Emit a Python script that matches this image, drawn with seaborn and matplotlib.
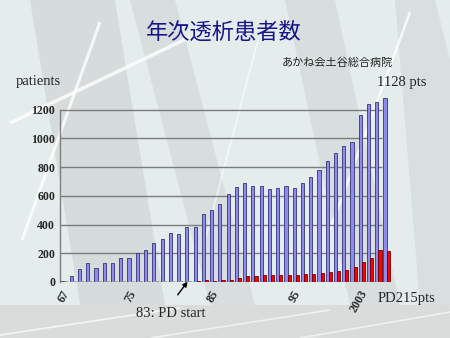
import pandas as pd
import seaborn as sns
import matplotlib
matplotlib.use("Agg")
import matplotlib.pyplot as plt
import matplotlib.transforms as mtransforms
from matplotlib.patches import Polygon, Rectangle
from matplotlib.lines import Line2D

# Dialysis patients per year (total) and peritoneal dialysis patients
years = list(range(1967, 2007))
total_patients = [8, 42, 93, 135, 95, 130, 135, 167, 167, 205,
                  221, 272, 300, 340, 333, 386, 384, 474, 500, 544,
                  612, 660, 688, 672, 672, 647, 653, 672, 656, 693,
                  733, 781, 844, 900, 944, 972, 1163, 1237, 1256, 1281]
pd_patients = [0] * 16 + [7, 14, 9, 12, 14, 26, 42, 44, 49, 47,
                          49, 49, 47, 56, 56, 63, 72, 77, 84, 102,
                          142, 170, 226, 215]
tick_years = [1967, 1975, 1985, 1995, 2003]
tick_text = ["67", "75", "85", "95", "2003"]
y_ticks = [0, 200, 400, 600, 800, 1000, 1200]

df = pd.DataFrame({
    "year": years * 2,
    "count": total_patients + pd_patients,
    "series": ["total"] * len(years) + ["PD"] * len(years),
})

W, H = 450, 338
sns.set_style("white")
plt.rcParams["font.family"] = ["Liberation Serif", "DejaVu Serif"]

fig = plt.figure(figsize=(W / 100, H / 100), dpi=100)
fig.patch.set_facecolor("#e4ecec")


def fp(x, y):
    return (x / W, 1 - y / H)


def band(pts, color="#cdd1d1", alpha=0.6):
    fig.add_artist(Polygon([fp(*p) for p in pts], closed=True, transform=fig.transFigure,
                           facecolor=color, edgecolor="none", alpha=alpha, zorder=-3))


def streak(p0, p1, lw=2.5, alpha=0.85):
    (x0, y0), (x1, y1) = fp(*p0), fp(*p1)
    fig.add_artist(Line2D([x0, x1], [y0, y1], transform=fig.transFigure, color="white",
                          lw=lw, alpha=alpha, solid_capstyle="butt", zorder=-2))


# slide backdrop
band([(30, 0), (115, 0), (165, 305), (80, 305)])
band([(130, 0), (175, 0), (255, 305), (210, 305)], alpha=0.5)
band([(285, 0), (335, 0), (400, 305), (350, 305)], alpha=0.5)
band([(395, 0), (435, 0), (450, 60), (450, 305), (420, 305)], alpha=0.45)
fig.add_artist(Rectangle(fp(0, 338), 1, 33 / H, transform=fig.transFigure,
                         facecolor="#dadcdc", edgecolor="none", zorder=-2.5))
streak((10, 123), (190, 37), lw=2.5, alpha=0.8)
streak((100, 22), (22, 240), lw=2.2, alpha=0.8)
streak((410, 12), (330, 230), lw=1.8, alpha=0.8)
streak((258, 40), (205, 240), lw=1.3, alpha=0.55)
streak((0, 335), (180, 308), lw=1.2, alpha=0.7)
streak((150, 338), (330, 310), lw=1.2, alpha=0.6)
streak((300, 338), (450, 312), lw=1.2, alpha=0.6)

ax = fig.add_axes([60 / W, 1 - 282 / H, 332 / W, (282 - 95.4) / H])
ax.patch.set_alpha(0)

sns.barplot(data=df, x="year", y="count", hue="series", hue_order=["total", "PD"],
            palette={"total": "#8c8cee", "PD": "#ff0000"}, saturation=1,
            width=0.76, legend=False, ax=ax, zorder=3)

for bar in ax.containers[0]:
    bar.set_edgecolor("#34347a")
    bar.set_linewidth(0.6)
for bar, v in zip(ax.containers[1], pd_patients):
    if v == 0:
        bar.set_edgecolor("#9c9c9c")
        bar.set_linewidth(1.4)
    else:
        bar.set_edgecolor("#700000")
        bar.set_linewidth(0.6)

ax.set_xlim(-0.55, 39.65)
ax.set_ylim(0, 1300)
ax.set_yticks(y_ticks)
ax.set_yticklabels([str(v) for v in y_ticks], fontsize=8.5, fontweight="bold")
ax.tick_params(axis="y", length=2, width=0.8, color="#808080", pad=1.5)
# back-wall gridlines stop just before the last category
ax.hlines(y_ticks, -0.55, 38.45, colors="#7c7c7c", lw=1.0, zorder=1)

ax.set_xticks([years.index(y) for y in tick_years])
ax.set_xticklabels(tick_text, rotation=60, ha="right", rotation_mode="anchor",
                   fontsize=8.5, fontweight="bold")
ax.tick_params(axis="x", length=0, pad=6.5)
shift = mtransforms.ScaledTranslation(2.5 / 100, 0, fig.dpi_scale_trans)
for lab in ax.get_xticklabels():
    lab.set_va("center")
    lab.set_transform(lab.get_transform() + shift)

ax.set_xlabel("")
ax.set_ylabel("")
for side in ["top", "right", "bottom"]:
    ax.spines[side].set_visible(False)
ax.spines["left"].set_color("#808080")
ax.spines["left"].set_linewidth(1.0)
ax.spines["left"].set_bounds(0, 1200)

# PD start marker
ax.annotate("", xy=(15.1, 18), xytext=(13.5, -105),
            arrowprops=dict(arrowstyle="-|>", color="black", lw=1.0, mutation_scale=7),
            annotation_clip=False)

cjk = ["Noto Sans CJK JP", "DejaVu Sans"]
fig.text(*fp(224, 32.5), "年次透析患者数", ha="center", va="center", fontsize=16,
         color="#16168a", family=cjk)
fig.text(*fp(282, 62.5), "あかね会土谷総合病院", ha="left", va="center", fontsize=8,
         color="#222222", family=cjk)
fig.text(*fp(16, 85), "patients", ha="left", va="baseline", fontsize=10.5)
fig.text(*fp(377, 86), "1128 pts", ha="left", va="baseline", fontsize=10.5)
fig.text(*fp(378, 301.7), "PD215pts", ha="left", va="baseline", fontsize=10.5)
fig.text(*fp(136, 316.7), "83: PD start", ha="left", va="baseline", fontsize=10.5)

fig.savefig("out.png", dpi=100)
